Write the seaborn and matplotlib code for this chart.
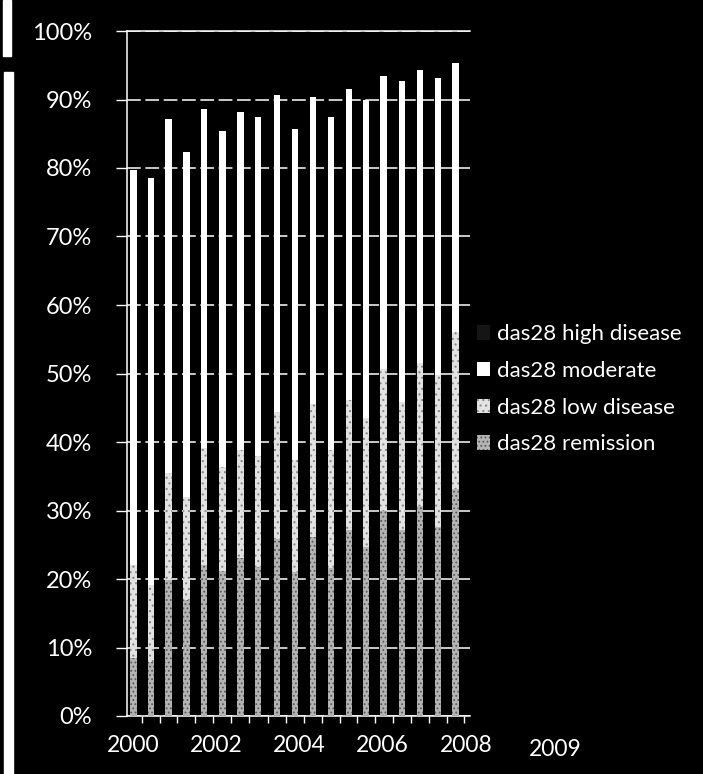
import numpy as np
import pandas as pd
import matplotlib
matplotlib.use("Agg")
import matplotlib.pyplot as plt
import seaborn as sns
from matplotlib.patches import Patch, Rectangle
from matplotlib.ticker import PercentFormatter, FixedLocator

# bar positions (decimal years, roughly every 5 months)
periods = [2000.00, 2000.41, 2000.84, 2001.27, 2001.70, 2002.14, 2002.57, 2003.00,
           2003.45, 2003.89, 2004.32, 2004.75, 2005.18, 2005.60, 2006.02, 2006.46,
           2006.89, 2007.33, 2007.75]

# share of patients (%) per das28 category
remission = [8.5, 7.9, 19.8, 16.9, 22.0, 21.1, 23.0, 21.8, 25.9, 21.0,
             26.2, 21.6, 27.2, 24.7, 30.0, 27.2, 30.6, 27.6, 33.2]
low_disease = [13.5, 11.2, 15.7, 15.1, 17.1, 15.3, 15.8, 16.2, 18.5, 16.4,
               19.4, 17.2, 18.9, 18.8, 20.7, 18.7, 20.9, 22.2, 22.9]
moderate = [57.7, 59.4, 51.7, 50.4, 49.5, 49.0, 49.4, 49.4, 46.3, 48.3,
            44.8, 48.6, 45.4, 46.4, 42.8, 46.8, 42.8, 43.4, 39.2]
high_disease = [20.3, 21.5, 12.8, 17.6, 11.4, 14.6, 11.8, 12.6, 9.3, 14.3,
                9.6, 12.6, 8.5, 10.1, 6.5, 7.3, 5.7, 6.8, 4.7]

year_ticks = [2000, 2002, 2004, 2006, 2008]
extra_label = ("2009", 2010.15)

series = [
    ("das28 remission", remission),
    ("das28 low disease", low_disease),
    ("das28 moderate", moderate),
    ("das28 high disease", high_disease),
]
styles = {
    "das28 remission": dict(fc="#b4b4b4", hatch="....", hc="#5a5a5a"),
    "das28 low disease": dict(fc="#e2e2e2", hatch="...", hc="#8a8a8a"),
    "das28 moderate": dict(fc="#ffffff", hatch=None, hc="#ffffff"),
    "das28 high disease": dict(fc="none", hatch=None, hc="none"),
}

df = pd.DataFrame({"period": periods})
running = np.zeros(len(periods))
for name, vals in series:
    running = running + np.array(vals)
    df[name] = running.copy()

sns.set_style("dark", {"axes.facecolor": "black", "figure.facecolor": "black"})
plt.rcParams["font.family"] = ["Lato", "DejaVu Sans"]
plt.rcParams["hatch.linewidth"] = 0.8

fig = plt.figure(figsize=(7.03, 7.74), dpi=100, facecolor="black")
ax = fig.add_axes([127 / 703, 1 - 716 / 774, 343 / 703, 685 / 774])
ax.set_facecolor("black")

# draw from the tallest cumulative level down so each layer shows its own segment
for name, _ in reversed(series):
    st = styles[name]
    n_before = len(ax.patches)
    sns.barplot(data=df, x="period", y=name, native_scale=True, width=0.37,
                color="white", saturation=1, errorbar=None, ax=ax, zorder=3)
    for p in ax.patches[n_before:]:
        p.set_facecolor(st["fc"])
        p.set_edgecolor(st["hc"])
        p.set_linewidth(0)
        if st["hatch"]:
            p.set_hatch(st["hatch"])

ax.set_xlim(1999.84, 2008.1)
ax.set_ylim(0, 100)
ax.yaxis.set_major_locator(FixedLocator(np.arange(0, 101, 10)))
ax.yaxis.set_major_formatter(PercentFormatter(decimals=0))
ax.set_xticks(year_ticks)
ax.set_xticklabels([str(y) for y in year_ticks])
edges = [periods[0] - 0.21] + [(a + b) / 2 for a, b in zip(periods[:-1], periods[1:])] + [periods[-1] + 0.21]
ax.xaxis.set_minor_locator(FixedLocator(edges))
ax.set_xlabel("")
ax.set_ylabel("")

ax.grid(axis="y", color="white", linestyle=(0, (9, 3)), linewidth=1.1, zorder=0)
ax.grid(axis="x", visible=False)
ax.set_axisbelow(True)

for side in ["left", "bottom", "top"]:
    ax.spines[side].set_visible(True)
    ax.spines[side].set_color("white")
    ax.spines[side].set_linewidth(1.1)
ax.spines["right"].set_visible(False)

ax.tick_params(axis="y", which="major", direction="out", length=8, width=1,
               color="white", labelcolor="white", labelsize=17, pad=17, left=True)
ax.tick_params(axis="x", which="major", length=0, labelcolor="white",
               labelsize=16.5, pad=14, bottom=True)
ax.tick_params(axis="x", which="minor", direction="out", length=5, width=1,
               color="white", bottom=True)

ax.text(extra_label[1], -0.0335, extra_label[0], color="white", fontsize=16.5,
        ha="center", va="top", transform=ax.get_xaxis_transform(), clip_on=False)

handles = []
for name, _ in reversed(series):
    st = styles[name]
    fc = st["fc"] if st["fc"] != "none" else "#151515"
    handles.append(Patch(facecolor=fc, edgecolor=st["hc"], hatch=st["hatch"],
                         linewidth=0, label=name))
leg = fig.legend(handles=handles, loc="center left", bbox_to_anchor=(457 / 703, 0.497),
                 frameon=False, fontsize=16, labelcolor="white", handlelength=0.6,
                 handleheight=0.6, handletextpad=0.3, labelspacing=0.75)

# scan artefact strip down the left edge
fig.patches.append(Rectangle((3 / 703, 1 - 56 / 774), 8 / 703, 56 / 774,
                             transform=fig.transFigure, color="white", zorder=0))
fig.patches.append(Rectangle((4 / 703, 0), 9 / 703, 1 - 72 / 774,
                             transform=fig.transFigure, color="white", zorder=0))

fig.savefig("out.png", dpi=100, facecolor="black")
